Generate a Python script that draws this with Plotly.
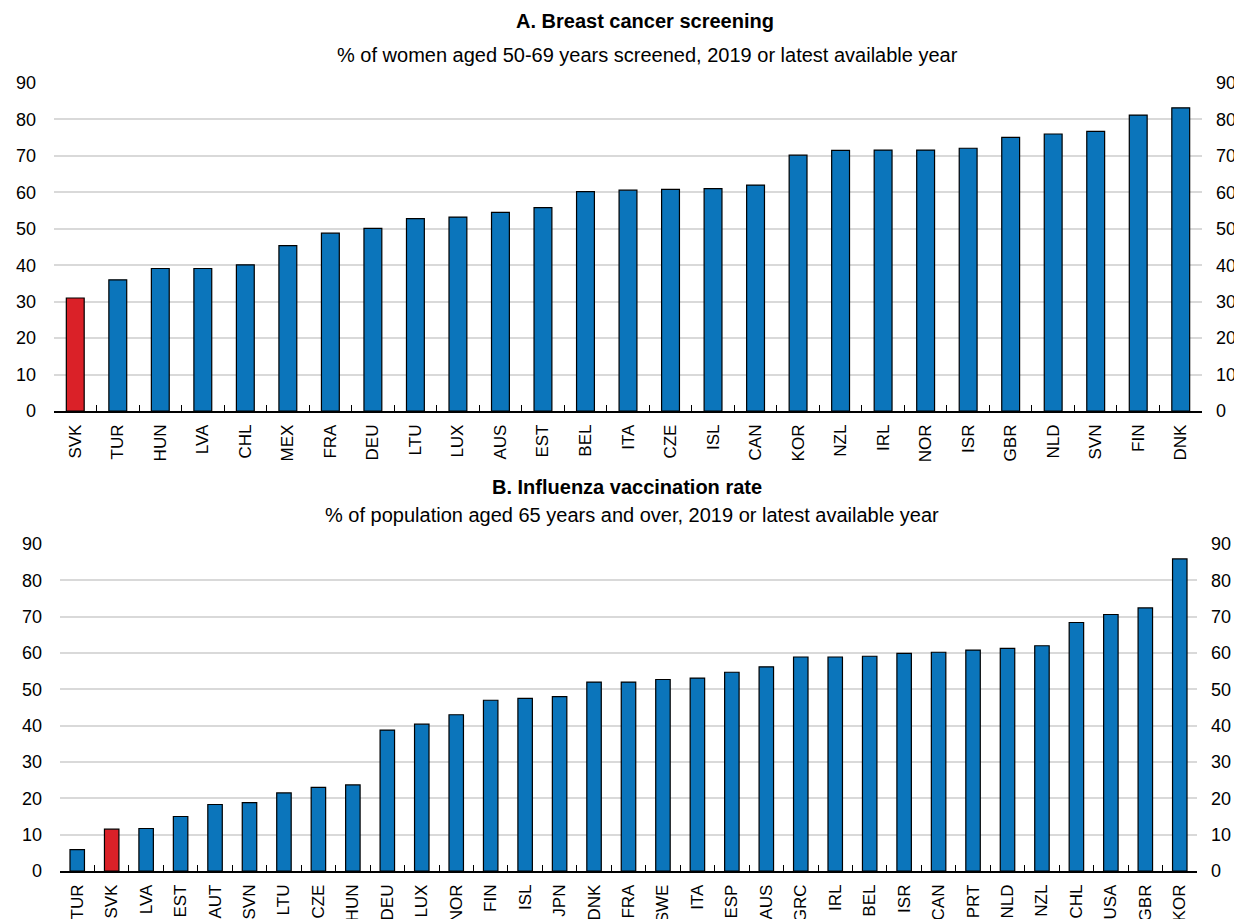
import plotly.graph_objects as go

# Panel A: breast cancer screening
cats_a = ["SVK", "TUR", "HUN", "LVA", "CHL", "MEX", "FRA", "DEU", "LTU", "LUX", "AUS", "EST", "BEL", "ITA",
          "CZE", "ISL", "CAN", "KOR", "NZL", "IRL", "NOR", "ISR", "GBR", "NLD", "SVN", "FIN", "DNK"]
vals_a = [31.0, 36.0, 39.1, 39.1, 40.1, 45.4, 48.8, 50.1, 52.8, 53.2, 54.5, 55.8, 60.2, 60.6,
          60.8, 61.0, 62.0, 70.2, 71.5, 71.6, 71.6, 72.1, 75.1, 76.0, 76.7, 81.2, 83.2]

# Panel B: influenza vaccination
cats_b = ["TUR", "SVK", "LVA", "EST", "AUT", "SVN", "LTU", "CZE", "HUN", "DEU", "LUX", "NOR", "FIN", "ISL",
          "JPN", "DNK", "FRA", "SWE", "ITA", "ESP", "AUS", "GRC", "IRL", "BEL", "ISR", "CAN", "PRT", "NLD",
          "NZL", "CHL", "USA", "GBR", "KOR"]
vals_b = [5.9, 11.5, 11.7, 15.0, 18.3, 18.8, 21.5, 23.0, 23.7, 38.8, 40.4, 43.0, 47.0, 47.5,
          48.0, 52.0, 52.0, 52.7, 53.1, 54.7, 56.2, 58.9, 58.9, 59.1, 59.9, 60.2, 60.8, 61.3,
          62.0, 68.4, 70.6, 72.4, 85.9]

highlight = "SVK"
BLUE = "#0B75BB"
RED = "#DA2128"
FONT = "Liberation Sans, Arial, sans-serif"

OFF = 8  # page body margin
W, H = 1242 - OFF, 919 - OFF  # keep the figure inside the window (no scrollbars)


def px_x(p):
    return (p - OFF) / W


def px_y(p):
    return 1 - (p - OFF) / H


def colors(cats):
    return [RED if c == highlight else BLUE for c in cats]


fig = go.Figure()
fig.add_trace(go.Bar(x=cats_a, y=vals_a, marker=dict(color=colors(cats_a), line=dict(color="black", width=1.2)),
                     width=0.42, xaxis="x", yaxis="y", showlegend=False))
fig.add_trace(go.Bar(x=cats_b, y=vals_b, marker=dict(color=colors(cats_b), line=dict(color="black", width=1.2)),
                     width=0.42, xaxis="x2", yaxis="y3", showlegend=False))
# invisible traces so the right-hand axes get drawn
fig.add_trace(go.Scatter(x=[cats_a[0]], y=[0], xaxis="x", yaxis="y2", mode="markers",
                         marker=dict(opacity=0), showlegend=False, hoverinfo="skip"))
fig.add_trace(go.Scatter(x=[cats_b[0]], y=[0], xaxis="x2", yaxis="y4", mode="markers",
                         marker=dict(opacity=0), showlegend=False, hoverinfo="skip"))

xcommon = dict(type="category", showline=True, linecolor="black", linewidth=1.5, ticks="inside",
               tickson="boundaries", ticklen=6, tickcolor="black", tickwidth=1.2, tickangle=-90,
               ticklabelstandoff=5, showgrid=False, automargin=False,
               tickfont=dict(family=FONT, size=17, color="black"))
ycommon = dict(range=[0, 90], dtick=10, showgrid=True, gridcolor="#D9D9D9", gridwidth=1.5,
               zeroline=False, ticks="", automargin=False, ticklabelstandoff=17,
               tickfont=dict(family=FONT, size=18, color="black"))
yright = dict(side="right", range=[0, 90], dtick=10, showgrid=False, zeroline=False, automargin=False,
              ticklabelstandoff=13, tickfont=dict(family=FONT, size=18, color="black"))

fig.update_layout(
    width=W, height=H,
    template="none",
    margin=dict(l=0, r=0, t=0, b=0, autoexpand=False),
    paper_bgcolor="white", plot_bgcolor="white",
    xaxis=dict(domain=[px_x(54), px_x(1202)], anchor="y", range=[-0.5, len(cats_a) - 0.5], **xcommon),
    yaxis=dict(domain=[px_y(411), px_y(83)], anchor="x", **ycommon),
    yaxis2=dict(overlaying="y", anchor="x", **yright),
    xaxis2=dict(domain=[px_x(60), px_x(1197)], anchor="y3", range=[-0.5, len(cats_b) - 0.5], **xcommon),
    yaxis3=dict(domain=[px_y(871), px_y(544)], anchor="x2", **ycommon),
    yaxis4=dict(overlaying="y3", anchor="x2", **yright),
)

# Panel titles
titles = [
    ("<b>A. Breast cancer screening</b>", 645, 21),
    ("% of women aged 50-69 years screened, 2019 or latest available year", 647, 55),
    ("<b>B. Influenza vaccination rate</b>", 627, 487),
    ("% of population aged 65 years and over, 2019 or latest available year", 632, 515),
]
for text, px, py in titles:
    fig.add_annotation(text=text, x=px_x(px), y=px_y(py), xref="paper", yref="paper",
                       xanchor="center", yanchor="middle", showarrow=False,
                       font=dict(family=FONT, size=20, color="black"))

fig.write_html("out.html")
